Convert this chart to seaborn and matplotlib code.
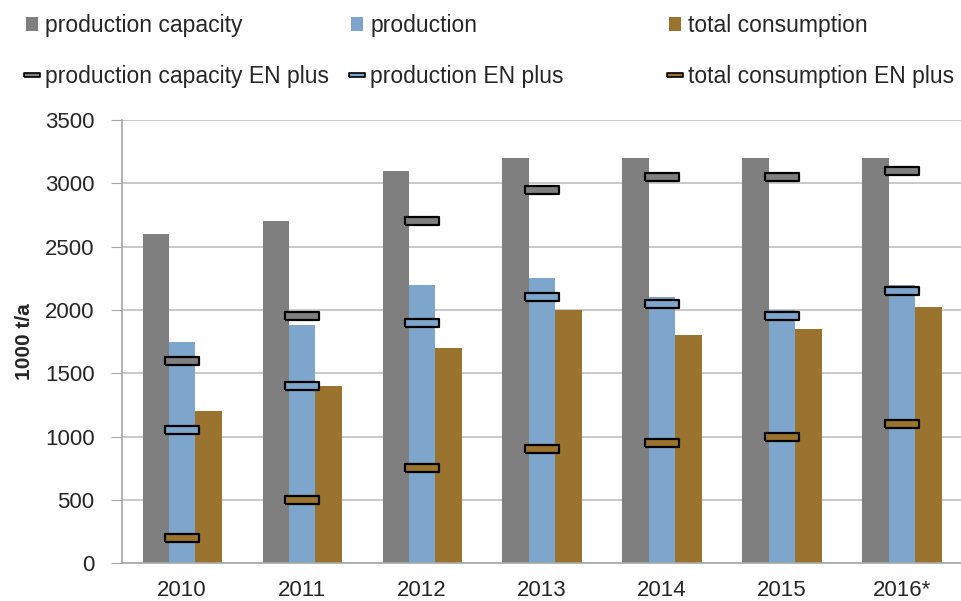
import numpy as np
import pandas as pd
import matplotlib
matplotlib.use("Agg")
import matplotlib.pyplot as plt
import seaborn as sns
from matplotlib.patches import Patch
from matplotlib.lines import Line2D

# données (1000 t/a)
years = ["2010", "2011", "2012", "2013", "2014", "2015", "2016*"]
capacity = [2600, 2700, 3100, 3200, 3200, 3200, 3200]
production = [1750, 1880, 2200, 2250, 2100, 2000, 2200]
consumption = [1200, 1400, 1700, 2000, 1800, 1850, 2020]
capacity_en = [1600, 1950, 2700, 2950, 3050, 3050, 3100]
production_en = [1050, 1400, 1900, 2100, 2050, 1950, 2150]
consumption_en = [200, 500, 750, 900, 950, 1000, 1100]

names = ["production capacity", "production", "total consumption"]
colors = ["#7f7f7f", "#7ea6cc", "#9a742e"]

df = pd.DataFrame({
    "year": years * 3,
    "serie": [names[0]] * 7 + [names[1]] * 7 + [names[2]] * 7,
    "value": capacity + production + consumption,
})

sns.set_style("white")
plt.rcParams["font.family"] = ["Liberation Sans", "DejaVu Sans"]

fig = plt.figure(figsize=(9.62, 6.01), dpi=100)
ax = fig.add_axes([0.127, 0.063, 0.873, 0.737])

sns.barplot(data=df, x="year", y="value", hue="serie", palette=colors,
            width=0.66, saturation=1, legend=False, ax=ax, zorder=2,
            linewidth=0, edgecolor="none")

# marqueurs EN plus
rect = [(-1, -0.22), (1, -0.22), (1, 0.22), (-1, 0.22), (-1, -0.22)]
xpos = np.arange(len(years))
for vals, c in zip([capacity_en, production_en, consumption_en], colors):
    ax.scatter(xpos, vals, marker=rect, s=25 ** 2, facecolor=c,
               edgecolor="black", linewidth=1.6, zorder=3)

ax.set_ylim(0, 3500)
ax.set_xlim(-0.5, 6.5)
ax.set_yticks(range(0, 3501, 500))
ax.yaxis.grid(True, color="#c0c0c0", linewidth=1.2, zorder=0)
ax.set_axisbelow(True)
ax.set_xlabel("")
ax.set_ylabel("1000 t/a", fontsize=15, fontweight="bold", labelpad=8)
ax.tick_params(axis="y", length=8, color="#a6a6a6", labelsize=16, pad=12, left=True)
ax.tick_params(axis="x", length=0, labelsize=16, pad=12)
for s in ["top", "right"]:
    ax.spines[s].set_visible(False)
for s in ["left", "bottom"]:
    ax.spines[s].set_color("#a6a6a6")
    ax.spines[s].set_linewidth(1.2)

# légendes
xs = [22 / 962, 347 / 962, 665 / 962]
for n, c, x in zip(names, colors, xs):
    handles = [
        Patch(facecolor=c, edgecolor="none"),
        Line2D([], [], linestyle="none", marker=rect, markersize=11,
               markerfacecolor=c, markeredgecolor="black", markeredgewidth=1.2),
    ]
    fig.legend(handles, [n, n + " EN plus"], loc="upper left",
               bbox_to_anchor=(x - 0.008, 0.995), frameon=False, fontsize=16.5,
               handlelength=0.55, handleheight=0.55, handletextpad=0.3,
               labelspacing=1.2, borderaxespad=0.1)

fig.savefig("out.png", dpi=100)
